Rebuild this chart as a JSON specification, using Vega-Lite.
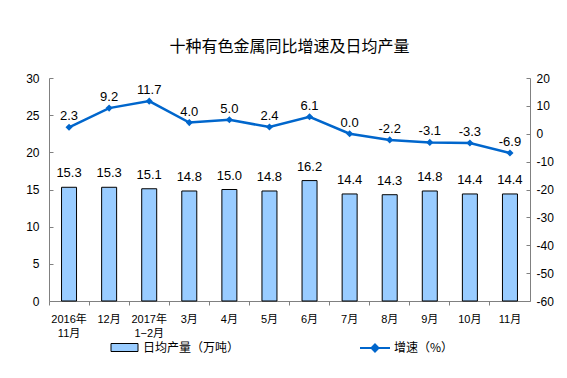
{
  "$schema": "https://vega.github.io/schema/vega-lite/v6.json",
  "autosize": "none",
  "padding": {"left": 49, "top": 78, "right": 37, "bottom": 77},
  "width": 481,
  "height": 223,
  "background": "white",
  "title": {
    "text": "十种有色金属同比增速及日均产量",
    "font": "Noto Sans CJK SC",
    "fontSize": 16,
    "fontWeight": "normal",
    "color": "#000000",
    "anchor": "middle",
    "offset": 17
  },
  "config": {
    "locale": {"number": {"decimal": ".", "thousands": ",", "grouping": [3], "currency": ["$", ""], "minus": "-"}},
    "view": {"stroke": null},
    "axis": {
      "labelFont": "Liberation Sans, Noto Sans CJK SC",
      "labelFontSize": 12,
      "labelColor": "#000000",
      "domainColor": "#808080",
      "tickColor": "#808080",
      "grid": false,
      "title": null
    }
  },
  "data": {
    "values": [
      {"month": "2016年\n11月", "output": 15.3, "growth": 2.3},
      {"month": "12月", "output": 15.3, "growth": 9.2},
      {"month": "2017年\n1−2月", "output": 15.1, "growth": 11.7},
      {"month": "3月", "output": 14.8, "growth": 4.0},
      {"month": "4月", "output": 15.0, "growth": 5.0},
      {"month": "5月", "output": 14.8, "growth": 2.4},
      {"month": "6月", "output": 16.2, "growth": 6.1},
      {"month": "7月", "output": 14.4, "growth": 0.0},
      {"month": "8月", "output": 14.3, "growth": -2.2},
      {"month": "9月", "output": 14.8, "growth": -3.1},
      {"month": "10月", "output": 14.4, "growth": -3.3},
      {"month": "11月", "output": 14.4, "growth": -6.9}
    ]
  },
  "encoding": {
    "x": {
      "field": "month",
      "type": "ordinal",
      "sort": null,
      "scale": {"paddingInner": 0, "paddingOuter": 0},
      "axis": {
        "labelAngle": 0,
        "labelExpr": "split(datum.value, '\\n')",
        "labelFontSize": 11,
        "labelLineHeight": 14,
        "labelPadding": 8,
        "labelBaseline": "top",
        "bandPosition": 0,
        "tickSize": 4,
        "domainColor": "#808080"
      }
    }
  },
  "layer": [
    {
      "encoding": {
        "y": {
          "field": "output",
          "type": "quantitative",
          "scale": {"domain": [0, 30], "nice": false},
          "axis": {"orient": "left", "values": [0, 5, 10, 15, 20, 25, 30], "tickSize": -4, "labelPadding": 14}
        }
      },
      "layer": [
        {
          "mark": {"type": "bar", "size": 15, "color": "#99CCFF", "stroke": "#000000", "strokeWidth": 1},
          "encoding": {
            "fill": {
              "datum": "日均产量（万吨）",
              "scale": {"range": ["#99CCFF"]},
              "legend": {
                "orient": "none",
                "legendX": 65,
                "legendY": 259,
                "title": null,
                "padding": 0,
                "symbolType": "M-1.35,-0.4H1.35V0.4H-1.35Z",
                "symbolSize": 400,
                "symbolStrokeColor": "#000000",
                "symbolStrokeWidth": 1,
                "symbolOpacity": 1,
                "labelFont": "Noto Sans CJK SC",
                "labelFontSize": 12,
                "labelColor": "#000000",
                "labelOffset": 8
              }
            }
          }
        },
        {
          "mark": {"type": "text", "baseline": "middle", "dy": -14, "font": "Liberation Sans", "fontSize": 13, "color": "#000000"},
          "encoding": {"text": {"field": "output", "type": "quantitative", "format": ".1f"}}
        }
      ]
    },
    {
      "encoding": {
        "y": {
          "field": "growth",
          "type": "quantitative",
          "scale": {"domain": [-60, 20], "nice": false},
          "axis": {"orient": "right", "values": [-60, -50, -40, -30, -20, -10, 0, 10, 20], "tickSize": -4, "labelPadding": 10}
        }
      },
      "layer": [
        {
          "mark": {"type": "line", "strokeWidth": 2.5, "color": "#0066CC"},
          "encoding": {
            "stroke": {
              "datum": "增速（%）",
              "scale": {"range": ["#0066CC"]},
              "legend": {
                "orient": "none",
                "legendX": 315,
                "legendY": 259,
                "title": null,
                "padding": 0,
                "symbolType": "M-1.5,0H1.5M0,-0.35L0.35,0L0,0.35L-0.35,0Z",
                "symbolSize": 400,
                "symbolStrokeColor": "#0066CC",
                "symbolFillColor": "#0066CC",
                "symbolStrokeWidth": 2,
                "labelFont": "Noto Sans CJK SC",
                "labelFontSize": 12,
                "labelColor": "#000000",
                "labelOffset": 8
              }
            }
          }
        },
        {
          "mark": {"type": "point", "shape": "diamond", "filled": true, "size": 50, "color": "#0066CC", "opacity": 1}
        },
        {
          "mark": {"type": "text", "baseline": "middle", "dy": -11, "font": "Liberation Sans", "fontSize": 13, "color": "#000000"},
          "encoding": {"text": {"field": "growth", "type": "quantitative", "format": ".1f"}}
        }
      ]
    }
  ],
  "resolve": {"scale": {"y": "independent", "fill": "independent", "stroke": "independent"}, "legend": {"fill": "independent", "stroke": "independent"}}
}
